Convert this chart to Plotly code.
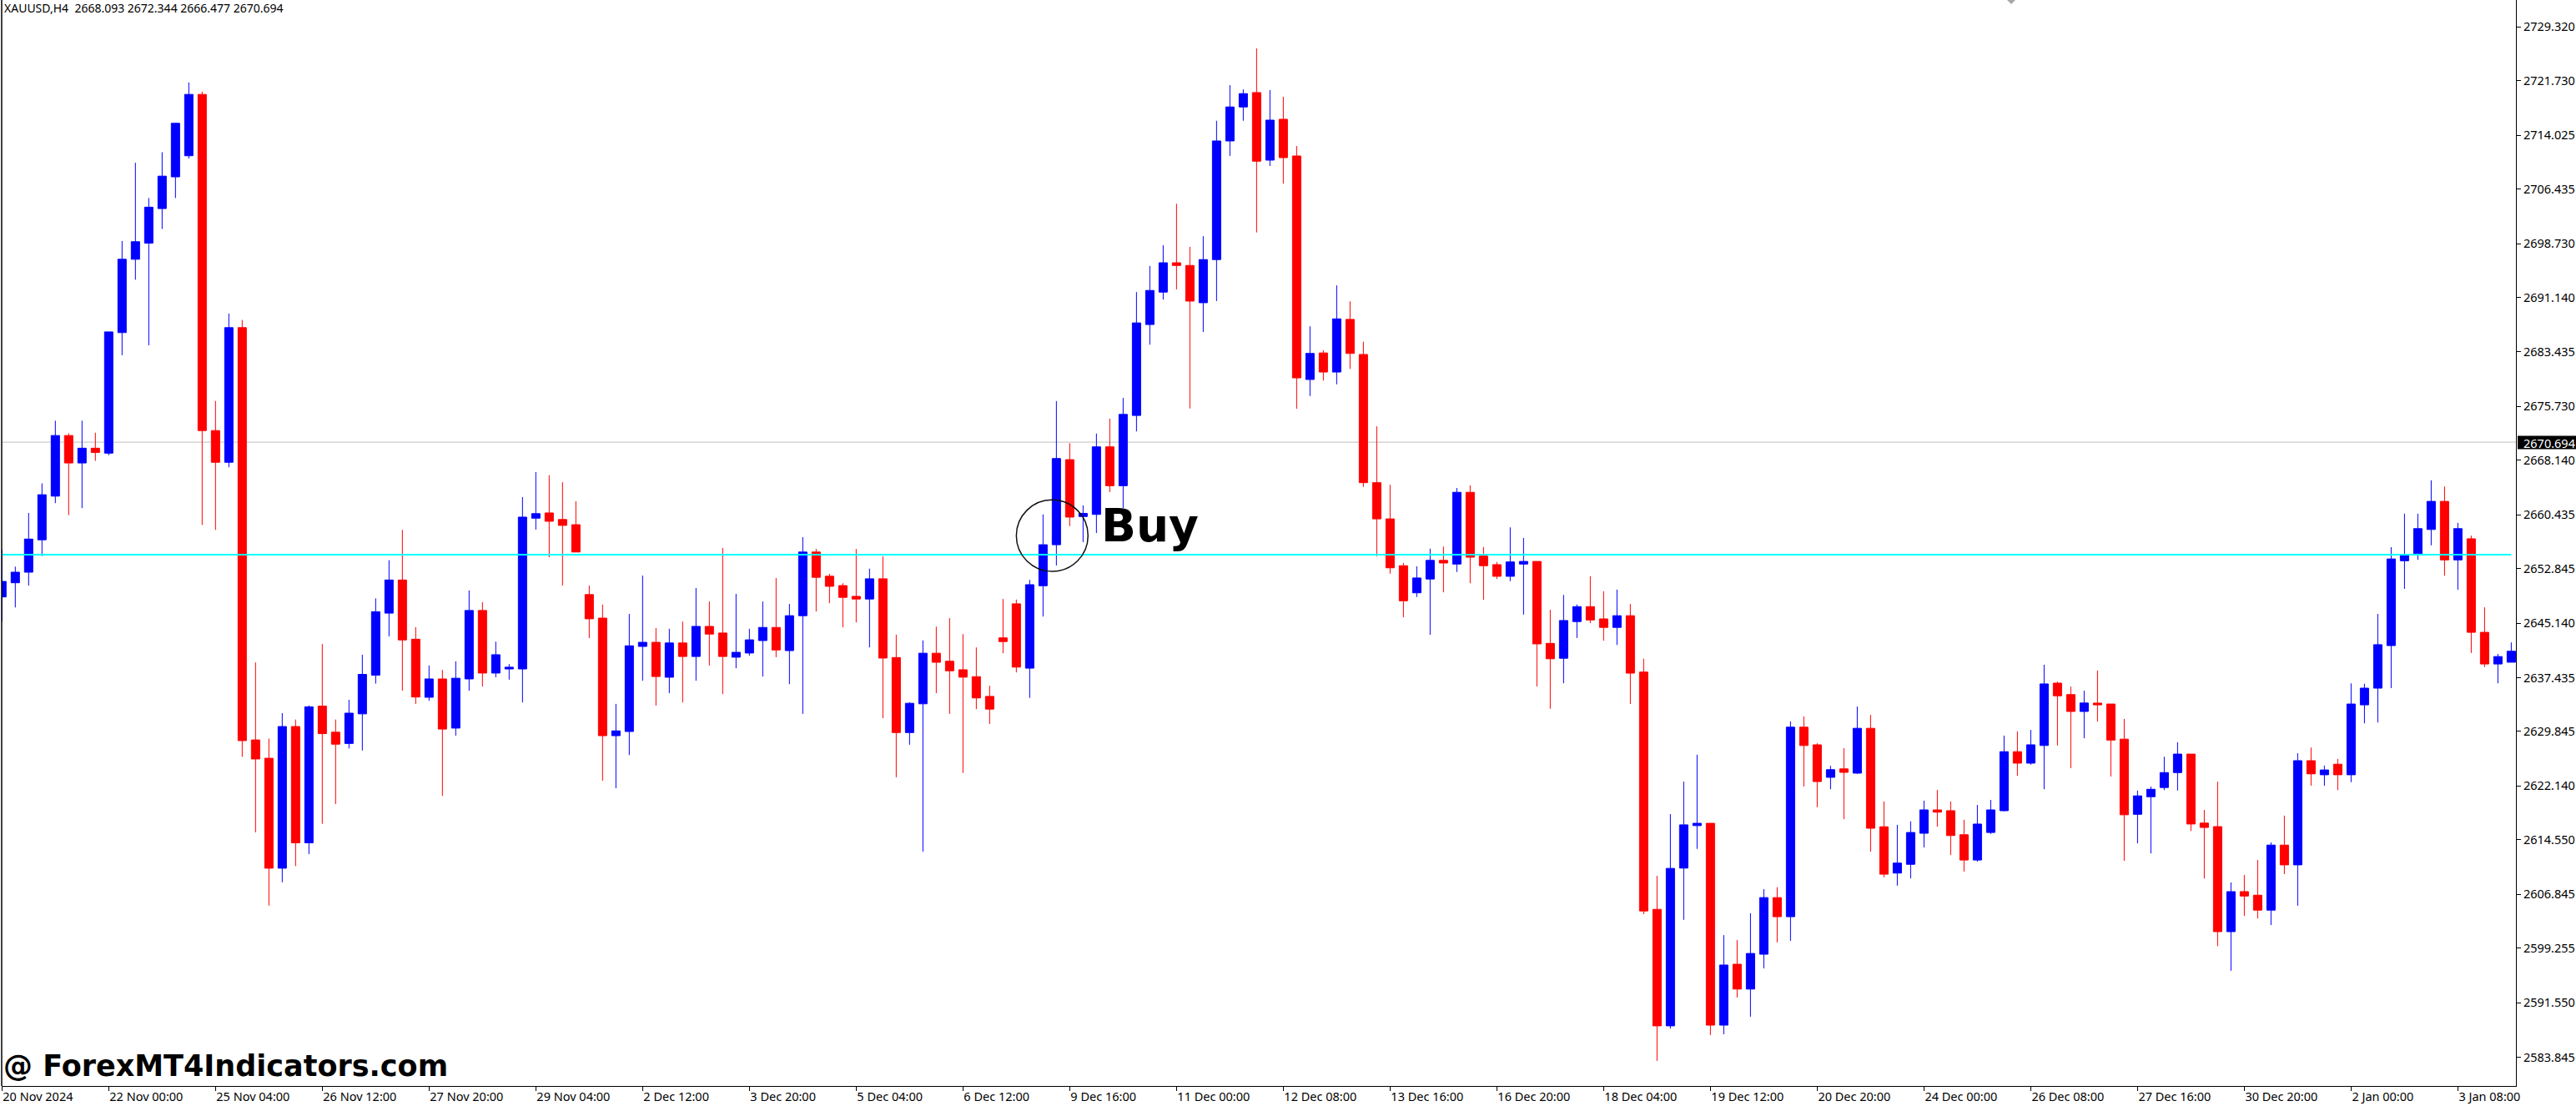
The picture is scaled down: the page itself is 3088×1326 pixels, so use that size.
import plotly.graph_objects as go

# XAUUSD H4 candles
open_ = [
    2648.84, 2650.84, 2652.33, 2656.91, 2663.07, 2671.63, 2667.75, 2669.84, 2669.14, 2686.16,
    2696.51, 2698.79, 2703.67, 2708.15, 2711.13, 2719.79, 2672.33, 2667.85, 2686.86, 2628.65,
    2626.06, 2610.54, 2630.54, 2614.12, 2633.42, 2629.74, 2628.15, 2632.33, 2637.80, 2646.55,
    2651.23, 2642.87, 2634.67, 2637.26, 2630.32, 2637.26, 2646.93, 2638.09, 2638.67, 2638.67,
    2659.96, 2660.70, 2659.77, 2659.04, 2649.17, 2645.85, 2629.25, 2629.84, 2641.85, 2642.43,
    2637.50, 2642.34, 2640.43, 2644.68, 2643.75, 2640.33, 2640.92, 2642.68, 2644.53, 2641.26,
    2646.19, 2655.18, 2651.76, 2650.44, 2648.92, 2648.55, 2651.40, 2640.28, 2629.69, 2633.75,
    2640.89, 2639.76, 2638.56, 2637.58, 2634.80, 2643.06, 2647.87, 2638.78, 2650.42, 2656.21,
    2668.22, 2660.19, 2660.49, 2670.03, 2664.54, 2674.46, 2687.30, 2691.88, 2696.02, 2695.64,
    2690.38, 2696.47, 2713.22, 2718.02, 2720.05, 2710.51, 2716.28, 2711.10, 2679.54, 2683.29,
    2680.59, 2688.03, 2683.07, 2664.97, 2659.86, 2653.25, 2649.42, 2651.37, 2654.00, 2653.48,
    2663.61, 2654.60, 2653.40, 2651.75, 2653.48, 2653.85, 2642.28, 2640.18, 2645.36, 2647.47,
    2645.74, 2644.54, 2646.19, 2638.23, 2604.73, 2588.28, 2610.55, 2616.55, 2616.88, 2588.38,
    2596.98, 2593.47, 2598.39, 2606.39, 2603.69, 2630.45, 2627.96, 2623.37, 2624.56, 2623.96,
    2630.29, 2616.39, 2609.85, 2611.09, 2615.47, 2618.77, 2618.66, 2615.26, 2611.69, 2615.58,
    2618.66, 2626.99, 2625.37, 2627.86, 2636.67, 2635.05, 2632.67, 2633.85, 2633.72, 2628.76,
    2618.15, 2620.63, 2621.93, 2624.04, 2626.65, 2616.91, 2616.41, 2601.58, 2607.23, 2606.73,
    2604.62, 2613.80, 2611.01, 2625.72, 2623.73, 2625.22, 2623.73, 2633.60, 2635.96, 2641.97,
    2653.95, 2654.94, 2658.36, 2662.33, 2654.07, 2657.05, 2643.84, 2639.37, 2639.62,
]
high = [
    2655.51, 2653.12, 2660.69, 2664.87, 2673.72, 2671.93, 2673.72, 2672.03, 2686.26, 2699.09,
    2710.14, 2705.16, 2711.63, 2715.71, 2721.48, 2720.19, 2676.51, 2688.85, 2687.95, 2639.59,
    2628.85, 2632.43, 2631.53, 2633.52, 2642.18, 2631.53, 2634.32, 2640.68, 2648.64, 2654.02,
    2658.30, 2644.56, 2639.16, 2638.53, 2639.75, 2649.76, 2648.10, 2642.53, 2639.36, 2662.94,
    2666.46, 2666.02, 2665.04, 2662.36, 2650.44, 2647.76, 2633.74, 2646.44, 2651.86, 2644.44,
    2644.34, 2645.36, 2650.10, 2648.20, 2655.76, 2649.27, 2644.34, 2648.20, 2651.52, 2647.85,
    2657.28, 2655.62, 2652.10, 2650.78, 2655.61, 2652.83, 2654.55, 2643.51, 2633.98, 2642.69,
    2644.64, 2645.84, 2643.59, 2641.71, 2636.30, 2648.55, 2648.47, 2651.25, 2660.49, 2676.49,
    2670.55, 2661.77, 2671.91, 2674.01, 2676.94, 2691.88, 2695.57, 2698.49, 2704.35, 2698.27,
    2699.77, 2716.07, 2721.10, 2720.50, 2726.29, 2720.40, 2719.46, 2712.51, 2687.05, 2683.67,
    2692.83, 2690.58, 2684.87, 2672.93, 2664.67, 2653.63, 2653.17, 2655.65, 2655.95, 2664.22,
    2664.59, 2655.88, 2653.78, 2658.66, 2657.16, 2653.85, 2647.02, 2649.12, 2647.77, 2651.75,
    2649.64, 2649.87, 2647.84, 2640.11, 2609.46, 2618.17, 2622.77, 2626.56, 2616.88, 2601.09,
    2600.39, 2604.17, 2607.58, 2607.85, 2631.26, 2631.96, 2628.18, 2624.99, 2627.48, 2633.37,
    2632.18, 2619.96, 2616.66, 2617.15, 2620.07, 2621.58, 2619.96, 2617.37, 2619.47, 2620.18,
    2629.26, 2629.86, 2630.07, 2639.26, 2636.89, 2636.18, 2635.59, 2638.44, 2633.72, 2631.61,
    2621.50, 2622.06, 2626.28, 2628.32, 2626.65, 2618.77, 2622.74, 2608.53, 2609.58, 2611.69,
    2614.18, 2617.96, 2626.77, 2627.58, 2625.03, 2625.97, 2636.64, 2636.58, 2646.44, 2655.87,
    2660.59, 2660.59, 2665.30, 2664.44, 2659.29, 2657.49, 2647.37, 2640.79, 2642.41,
]
low = [
    2645.36, 2647.35, 2650.44, 2654.62, 2662.08, 2660.39, 2661.38, 2668.05, 2668.84, 2682.97,
    2693.62, 2684.37, 2700.79, 2705.16, 2710.74, 2658.99, 2658.30, 2667.15, 2626.26, 2615.61,
    2605.26, 2608.55, 2610.84, 2612.53, 2616.80, 2619.59, 2627.45, 2627.15, 2636.60, 2643.27,
    2635.61, 2633.72, 2634.18, 2620.75, 2629.25, 2635.60, 2636.18, 2637.50, 2637.16, 2633.94,
    2658.35, 2654.45, 2650.44, 2655.18, 2643.02, 2622.90, 2621.83, 2626.51, 2637.01, 2633.50,
    2635.25, 2633.94, 2637.01, 2639.16, 2635.11, 2638.77, 2640.53, 2637.60, 2640.33, 2636.52,
    2632.33, 2646.78, 2647.95, 2644.53, 2645.24, 2641.71, 2631.72, 2623.38, 2627.97, 2612.87,
    2635.25, 2632.32, 2623.99, 2633.00, 2630.90, 2640.89, 2638.18, 2634.58, 2646.07, 2653.28,
    2658.84, 2656.58, 2657.86, 2663.64, 2661.39, 2672.21, 2684.45, 2690.83, 2692.26, 2675.44,
    2686.25, 2690.61, 2711.11, 2716.07, 2700.30, 2709.69, 2707.21, 2675.41, 2677.21, 2679.39,
    2678.86, 2681.04, 2664.37, 2654.60, 2652.12, 2645.96, 2648.82, 2643.49, 2649.49, 2652.35,
    2650.77, 2648.44, 2651.37, 2651.07, 2646.34, 2636.20, 2633.05, 2636.65, 2643.04, 2645.14,
    2642.66, 2642.06, 2633.72, 2604.05, 2583.32, 2587.90, 2603.25, 2613.26, 2586.98, 2587.09,
    2592.28, 2589.57, 2596.39, 2600.06, 2600.28, 2622.07, 2619.15, 2621.69, 2617.47, 2623.85,
    2612.88, 2609.26, 2608.07, 2609.09, 2613.47, 2616.39, 2612.39, 2610.07, 2611.47, 2615.37,
    2618.56, 2623.58, 2625.15, 2621.69, 2627.86, 2624.67, 2628.88, 2631.24, 2623.48, 2611.57,
    2614.05, 2612.62, 2621.56, 2621.50, 2615.79, 2609.09, 2599.53, 2596.06, 2603.81, 2603.44,
    2602.51, 2609.71, 2605.24, 2622.18, 2622.18, 2621.56, 2622.68, 2630.99, 2631.12, 2635.96,
    2649.98, 2654.07, 2656.12, 2651.84, 2649.85, 2640.92, 2638.93, 2636.64, 2639.62,
]
close = [
    2651.03, 2652.33, 2657.01, 2663.27, 2671.63, 2667.75, 2669.84, 2669.24, 2686.26, 2696.51,
    2698.99, 2703.87, 2708.25, 2715.71, 2719.79, 2672.33, 2667.85, 2686.86, 2628.55, 2625.96,
    2610.54, 2630.54, 2614.12, 2633.32, 2629.54, 2628.05, 2632.43, 2637.90, 2646.75, 2651.23,
    2642.77, 2634.71, 2637.26, 2630.18, 2637.36, 2646.93, 2638.09, 2640.68, 2638.92, 2660.11,
    2660.60, 2659.52, 2658.94, 2655.18, 2645.75, 2629.25, 2629.93, 2641.94, 2642.43, 2637.60,
    2642.34, 2640.43, 2644.68, 2643.60, 2640.43, 2641.02, 2642.78, 2644.53, 2641.36, 2646.19,
    2655.18, 2651.61, 2650.34, 2648.78, 2648.55, 2651.40, 2640.21, 2629.69, 2633.82, 2640.89,
    2639.61, 2638.41, 2637.51, 2634.58, 2633.00, 2642.54, 2638.93, 2650.57, 2656.21, 2668.38,
    2660.11, 2660.64, 2670.03, 2664.54, 2674.61, 2687.53, 2692.11, 2696.02, 2695.64, 2690.61,
    2696.47, 2713.22, 2718.02, 2719.90, 2710.36, 2716.16, 2710.86, 2679.77, 2683.22, 2680.59,
    2688.10, 2683.22, 2664.97, 2659.86, 2652.95, 2648.29, 2651.52, 2654.00, 2653.63, 2663.61,
    2654.45, 2653.25, 2651.75, 2653.78, 2653.85, 2642.21, 2640.11, 2645.51, 2647.47, 2645.59,
    2644.54, 2646.19, 2638.08, 2604.50, 2588.28, 2610.51, 2616.66, 2616.88, 2588.38, 2596.87,
    2593.47, 2598.50, 2606.39, 2603.69, 2630.45, 2627.86, 2622.77, 2624.45, 2624.07, 2630.29,
    2616.18, 2609.69, 2611.26, 2615.58, 2618.77, 2618.45, 2615.15, 2611.69, 2616.77, 2618.77,
    2626.99, 2625.37, 2627.96, 2636.56, 2634.88, 2632.67, 2633.86, 2633.60, 2628.63, 2618.08,
    2620.75, 2621.68, 2624.04, 2626.65, 2616.78, 2616.29, 2601.58, 2607.23, 2606.61, 2604.62,
    2613.80, 2611.01, 2625.72, 2623.86, 2624.41, 2623.73, 2633.72, 2635.96, 2642.10, 2654.20,
    2654.69, 2658.48, 2662.33, 2654.07, 2658.48, 2643.84, 2639.37, 2640.42, 2641.17,
]

date_labels = [
    "20 Nov 2024", "22 Nov 00:00", "25 Nov 04:00", "26 Nov 12:00", "27 Nov 20:00", "29 Nov 04:00",
    "2 Dec 12:00", "3 Dec 20:00", "5 Dec 04:00", "6 Dec 12:00", "9 Dec 16:00", "11 Dec 00:00",
    "12 Dec 08:00", "13 Dec 16:00", "16 Dec 20:00", "18 Dec 04:00", "19 Dec 12:00", "20 Dec 20:00",
    "24 Dec 00:00", "26 Dec 08:00", "27 Dec 16:00", "30 Dec 20:00", "2 Jan 00:00", "3 Jan 08:00",
]
price_ticks = [
    2729.320, 2721.730, 2714.025, 2706.435, 2698.730, 2691.140, 2683.435, 2675.730, 2668.140, 2660.435,
    2652.845, 2645.140, 2637.435, 2629.845, 2622.140, 2614.550, 2606.845, 2599.255, 2591.550, 2583.845,
]
bid_price = 2670.694
level_price = 2654.82
header = "XAUUSD,H4\u00a0\u00a02668.093 2672.344 2666.477 2670.694"

W, H = 3088, 1326
LEFT, RIGHT, BOTTOM = 2, 72, 24
plot_w = W - LEFT - RIGHT
plot_h = H - BOTTOM


def px(x):
    return (x - LEFT) / plot_w


def py(y):
    return 1 - y / plot_h


bars = list(range(len(close)))

fig = go.Figure()
fig.add_trace(go.Candlestick(
    x=bars, open=open_, high=high, low=low, close=close,
    increasing=dict(line=dict(color="#0000FF", width=1), fillcolor="#0000FF"),
    decreasing=dict(line=dict(color="#FF0000", width=1), fillcolor="#FF0000"),
    whiskerwidth=0,
))

fig.update_layout(
    width=W, height=H,
    margin=dict(l=LEFT, r=RIGHT, t=0, b=BOTTOM, pad=0),
    paper_bgcolor="white", plot_bgcolor="white",
    showlegend=False,
    boxgap=0.375, boxgroupgap=0,
    font=dict(family="Noto Sans", size=14.5, color="black"),
    xaxis=dict(
        type="linear", range=[-0.02, 188.35], rangeslider=dict(visible=False),
        tickmode="array", tickvals=bars[::8], ticktext=date_labels,
        ticks="outside", ticklen=5, tickcolor="black", tickwidth=1,
        ticklabelposition="outside right",
        showline=True, linecolor="black", linewidth=1, showgrid=False, zeroline=False,
    ),
    yaxis=dict(
        side="right", range=[2579.79, 2733.12],
        tickmode="array", tickvals=price_ticks, ticktext=[f"{p:.3f}" for p in price_ticks],
        ticks="outside", ticklen=5, tickcolor="black", tickwidth=1,
        showline=True, linecolor="black", linewidth=1, showgrid=False, zeroline=False,
    ),
)

# bid line sits behind the candles, the drawn level and circle on top
fig.add_shape(type="line", xref="paper", x0=0, x1=1, yref="y", y0=bid_price, y1=bid_price,
              line=dict(color="#C0C0C0", width=1), layer="below")
fig.add_shape(type="line", xref="x", x0=-0.02, x1=bars[-1], yref="y", y0=level_price, y1=level_price,
              line=dict(color="#00FFFF", width=2))
fig.add_shape(type="circle", xref="x", x0=76.0, x1=81.37, yref="y", y0=2652.45, y1=2662.54,
              line=dict(color="#111111", width=1.5))
fig.add_shape(type="line", xref="paper", x0=0, x1=0, yref="paper", y0=0, y1=1,
              line=dict(color="black", width=1.5))
# price box on the axis
fig.add_shape(type="rect", xref="paper", x0=px(3018), x1=px(3088), yref="paper", y0=py(538.5), y1=py(522.5),
              fillcolor="black", line=dict(width=0))
# small marker at the top edge
fig.add_shape(type="path", xref="paper", yref="paper",
              path=f"M {px(2406)} {py(0)} L {px(2416)} {py(0)} L {px(2411)} {py(5)} Z",
              fillcolor="#A8A8A8", line=dict(width=0))

fig.add_annotation(text=f"{bid_price:.3f}", xref="paper", yref="paper", x=px(3023), y=py(530.5),
                   xanchor="left", yanchor="middle", showarrow=False,
                   font=dict(family="Noto Sans", size=14.5, color="white"))
fig.add_annotation(text=header, xref="paper", yref="paper", x=px(3), y=py(9),
                   xanchor="left", yanchor="middle", showarrow=False,
                   font=dict(family="Noto Sans", size=14, color="black"))
fig.add_annotation(text="<b>Buy</b>", xref="paper", yref="paper", x=px(1318), y=py(630),
                   xanchor="left", yanchor="middle", showarrow=False,
                   font=dict(family="DejaVu Sans", size=55, color="black"))
fig.add_annotation(text="<b>@ ForexMT4Indicators.com</b>", xref="paper", yref="paper", x=px(2), y=py(1278),
                   xanchor="left", yanchor="middle", showarrow=False,
                   font=dict(family="DejaVu Sans", size=35, color="black"))

# the page's default body margin would push the chart off by 8px
fig.write_html("out.html", config=dict(displayModeBar=False),
               post_script="document.body.style.margin = '0';")
